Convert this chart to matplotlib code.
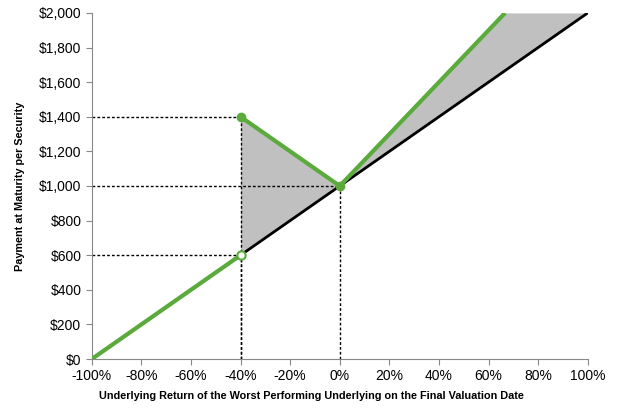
import numpy as np
import matplotlib.pyplot as plt
from matplotlib.ticker import FuncFormatter

# underlying return (%) and payment ($)
ret_low = [-100, -40]
pay_low = [0, 600]
ret_mid = [-40, 0]
pay_mid = [1400, 1000]
ret_high = [0, 66.67]
pay_high = [1000, 2000]
ret_ref = [-100, 100]
pay_ref = [0, 2000]
fill_x = [-40, 0, 66.67, 100]
fill_green = [1400, 1000, 2000, 2000]

green = '#5aab3c'
plt.rcParams['font.family'] = ['Liberation Sans', 'DejaVu Sans']

fig = plt.figure(figsize=(6.2, 4.17), dpi=100)
ax = fig.add_axes([0.148, 0.139, 0.80, 0.830])

# shaded region between note payoff and underlying
fx = np.linspace(-40, 100, 500)
fg = np.interp(fx, fill_x, fill_green)
fb = np.interp(fx, ret_ref, pay_ref)
ax.fill_between(fx, fb, fg, color='#c0c0c0', lw=0, zorder=1)

# dashed guides
for x, y in [(-40, 1400), (-40, 600), (0, 1000)]:
    ax.plot([-100, x], [y, y], color='black', ls=(0, (2, 1.5)), lw=1, zorder=2)
    ax.plot([x, x], [0, y], color='black', ls=(0, (2, 1.5)), lw=1, zorder=2)

ax.plot(ret_ref, pay_ref, color='black', lw=2, zorder=3)
ax.plot(ret_low, pay_low, color=green, lw=3, zorder=4, solid_capstyle='butt')
ax.plot(ret_mid, pay_mid, color=green, lw=3, zorder=4)
ax.plot(ret_high, pay_high, color=green, lw=3, zorder=4, solid_capstyle='butt')
ax.plot([-40], [1400], 'o', color=green, ms=6, zorder=5)
ax.plot([0], [1000], 'o', color=green, ms=6, zorder=5)
ax.plot([-40], [600], 'o', mfc='white', mec=green, mew=1.5, ms=6, zorder=5)

ax.set_xlim(-100, 100)
ax.set_ylim(0, 2000)
ax.set_xticks(np.arange(-100, 101, 20))
ax.set_yticks(np.arange(0, 2001, 200))
ax.xaxis.set_major_formatter(FuncFormatter(lambda v, p: f'{v:.0f}%'))
ax.yaxis.set_major_formatter(FuncFormatter(lambda v, p: f'${v:,.0f}'))
for s in ['top', 'right']:
    ax.spines[s].set_visible(False)
for s in ['left', 'bottom']:
    ax.spines[s].set_color('#888888')
ax.tick_params(colors='#888888', labelcolor='black', labelsize=10, length=4)
fig.text(0.503, 0.05,
         'Underlying Return of the Worst Performing Underlying on the Final Valuation Date',
         fontsize=7.8, fontweight='bold', ha='center', va='center')
ax.set_ylabel('Payment at Maturity per Security', fontsize=7.8, fontweight='bold', labelpad=10)
for lbl in ax.get_xticklabels() + ax.get_yticklabels():
    lbl.set_clip_on(False)

fig.savefig('out.png', dpi=100)
